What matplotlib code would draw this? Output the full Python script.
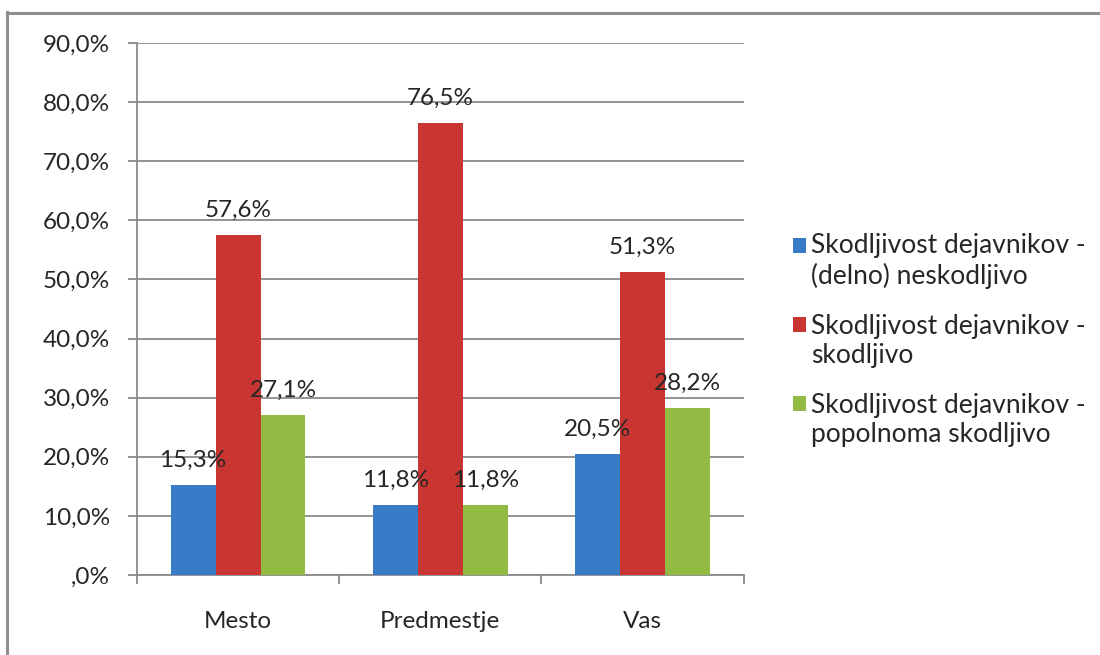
import numpy as np
import matplotlib
matplotlib.use("Agg")
from matplotlib import pyplot as plt
from matplotlib.lines import Line2D
from matplotlib.patches import Rectangle
from matplotlib.legend_handler import HandlerPatch

plt.rcParams['font.family'] = ['Lato', 'DejaVu Sans']

categories = ['Mesto', 'Predmestje', 'Vas']
series_names = ['Skodljivost dejavnikov -\n(delno) neskodljivo',
                'Skodljivost dejavnikov -\nskodljivo',
                'Skodljivost dejavnikov -\npopolnoma skodljivo']
neskodljivo = [15.3, 11.8, 20.5]
skodljivo = [57.6, 76.5, 51.3]
popolnoma = [27.1, 11.8, 28.2]
y_ticks = [0, 10, 20, 30, 40, 50, 60, 70, 80, 90]
y_ticklabels = [',0%', '10,0%', '20,0%', '30,0%', '40,0%', '50,0%',
                '60,0%', '70,0%', '80,0%', '90,0%']

colors = ['#3a7bc8', '#c93531', '#93bb43']
grid_col = '#8a8a8a'
text_col = '#262626'
fs = 17.5


def top_square(legend, orig_handle, xdescent, ydescent, width, height, fontsize):
    # legend key sits next to the first line of a two-line label
    return Rectangle((-xdescent, -ydescent + 0.62 * fontsize), width, height)


fig = plt.figure(figsize=(11, 6.55), dpi=100)
ax = fig.add_axes([0.1245, 0.1221, 0.5515, 0.8123])

x = np.arange(len(categories))
w = 1 / 4.5
bars = []
for i, (vals, name, c) in enumerate(zip((neskodljivo, skodljivo, popolnoma),
                                        series_names, colors)):
    pos = x + (i - 1) * w
    bars.append(ax.bar(pos, vals, width=w, color=c, label=name, zorder=3))
    for p, v in zip(pos, vals):
        ax.annotate(f'{v:.1f}%'.replace('.', ','), (p, v),
                    xytext=(0, 13), textcoords='offset points',
                    ha='center', va='baseline', fontsize=fs,
                    color=text_col, zorder=4)

ax.set_xlim(-0.5, len(categories) - 0.5)
ax.set_ylim(0, 90)
ax.set_yticks(y_ticks)
ax.set_yticklabels(y_ticklabels)
ax.yaxis.grid(True, color=grid_col, lw=1.3, zorder=0)
ax.set_xticks(x)
ax.set_xticklabels(categories)
ax.set_xticks(np.arange(len(categories) + 1) - 0.5, minor=True)
ax.tick_params(axis='x', which='major', length=0, pad=26,
               labelsize=fs, labelcolor=text_col)
ax.tick_params(axis='x', which='minor', length=6.5, width=1.3,
               color=grid_col)
ax.tick_params(axis='y', length=6.5, width=1.3, color=grid_col, pad=13,
               labelsize=fs, labelcolor=text_col)

for s in ('top', 'right'):
    ax.spines[s].set_visible(False)
for s in ('left', 'bottom'):
    ax.spines[s].set_color(grid_col)
    ax.spines[s].set_linewidth(1.3)

handles = [b.patches[0] for b in bars]
leg = ax.legend(handles, series_names, loc='center left',
                bbox_to_anchor=(0.699, 0.481),
                bbox_transform=fig.transFigure, frameon=False,
                fontsize=19, labelspacing=0.95, handlelength=0.5,
                handleheight=0.5, handletextpad=0.2, labelcolor=text_col,
                handler_map={h: HandlerPatch(patch_func=top_square)
                             for h in handles})

# outer chart frame, left and top edges
fig.add_artist(Line2D([0.0068, 0.0068], [0, 0.981], color='#8f8f8f', lw=2.2,
                      transform=fig.transFigure))
fig.add_artist(Line2D([0.0068, 1], [0.98, 0.98], color='#8f8f8f', lw=2.2,
                      transform=fig.transFigure))

fig.savefig('out.png', dpi=100)
